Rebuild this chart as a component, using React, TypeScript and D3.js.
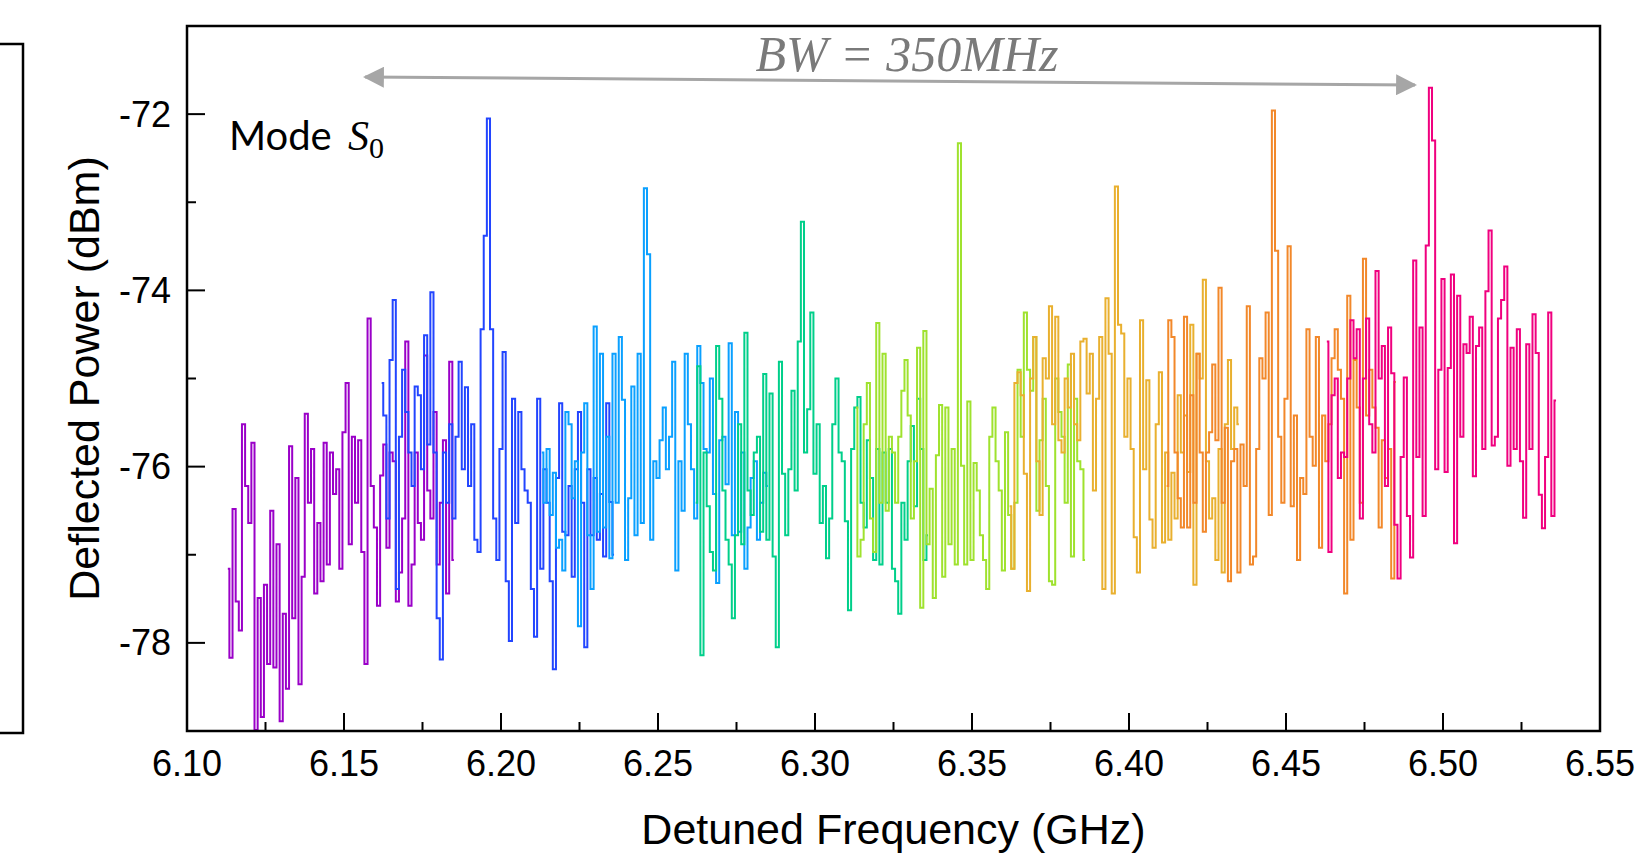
import React, { useEffect, useRef } from 'react';
import * as d3 from 'd3';

// each sweep: first detuned frequency (GHz), sampled every 1 MHz
const sweepStarts = [6.113, 6.162, 6.213, 6.262, 6.313, 6.362, 6.412, 6.463];
const sweepStep = 0.001;
const sweepColors = ['#9a00c8', '#2245ff', '#0aa0ff', '#00cf8a', '#9fe22e', '#e9b02f', '#f2882a', '#f0007f'];

// deflected power (dBm)
const sweepPurple = [
  -77.16, -78.17, -76.48, -77.53, -77.86, -75.52, -76.22, -76.64, -75.73, -78.99,
  -77.49, -78.84, -77.34, -78.24, -76.5, -78.28, -76.88, -78.89, -77.67, -78.52,
  -75.77, -77.72, -76.13, -78.47, -77.25, -75.4, -76.41, -75.8, -77.44, -76.64,
  -77.3, -75.73, -77.11, -75.84, -76.31, -76.03, -77.16, -75.61, -75.05, -76.88,
  -75.66, -76.41, -75.7, -76.97, -78.24, -74.32, -76.22, -76.69, -77.58, -76.1,
  -75.75, -76.92, -75.84, -75.94, -77.53, -77.2, -76.59, -74.58, -77.58, -77.11,
  -75.84, -76.64, -76.83, -74.74, -76.27, -76.59, -75.38, -77.11, -76.41, -75.7,
  -77.44, -74.81, -77.06,
];
const sweepBlue = [
  -75.05, -75.42, -76.59, -74.79, -74.11, -77.39, -75.66, -74.9, -75.38, -75.84,
  -76.22, -75.09, -75.19, -76.03, -74.51, -75.75, -74.02, -75.84, -77.72, -78.19,
  -75.84, -76.41, -75.52, -76.59, -75.66, -74.81, -76.03, -75.1, -76.22, -75.52,
  -76.83, -76.97, -74.44, -73.38, -72.05, -74.44, -76.59, -77.06, -75.8, -74.7,
  -77.3, -77.98, -75.23, -76.64, -75.38, -76.03, -76.27, -76.41, -77.39, -77.93,
  -75.23, -77.16, -76.03, -76.41, -77.3, -78.3, -76.13, -75.28, -76.74, -76.78,
  -76.22, -77.25, -76.03, -75.38, -76.41, -78.05, -76.03, -76.78, -76.13, -76.83,
  -76.31, -77.02, -75.28, -76.4, -77.0,
];
const sweepSky = [
  -75.84, -76.41, -75.8, -76.55, -76.07, -76.92, -76.83, -77.18, -75.38, -75.52,
  -76.36, -75.94, -77.81, -75.84, -75.28, -76.78, -77.39, -74.41, -76.74, -74.72,
  -76.69, -75.66, -77.04, -74.72, -76.41, -74.53, -75.24, -77.06, -76.36, -75.09,
  -76.78, -74.72, -76.64, -72.84, -73.59, -76.83, -75.94, -76.13, -75.7, -75.33,
  -76.03, -75.66, -74.81, -77.18, -75.94, -76.5, -74.72, -75.52, -76.03, -76.59,
  -74.63, -75.05, -75.8, -75.84, -75.0, -76.31, -77.32, -75.7, -75.66, -76.2,
  -74.6, -76.78, -75.38, -76.74, -75.84, -77.16, -76.69, -76.13, -75.94, -76.83,
  -76.41, -76.07, -76.22,
];
const sweepTeal = [
  -76.41, -74.86, -78.14, -75.84, -76.45, -76.97, -77.18, -74.63, -75.23, -76.27,
  -76.83, -77.11, -77.72, -76.78, -75.52, -76.88, -74.48, -76.27, -76.55, -75.84,
  -75.66, -76.74, -74.95, -76.83, -75.17, -77.02, -78.05, -74.81, -76.08, -76.78,
  -76.03, -75.14, -76.27, -74.58, -73.22, -75.84, -75.35, -74.25, -76.08, -75.52,
  -76.64, -76.22, -77.04, -76.59, -75.52, -75.0, -75.84, -75.94, -76.62, -77.63,
  -75.8, -75.33, -75.21, -76.41, -76.69, -75.7, -76.13, -77.06, -75.8, -77.11,
  -75.84, -76.41, -75.8, -77.16, -77.3, -77.67, -76.41, -76.83, -75.94, -75.54,
  -76.45, -75.23, -75.8, -77.06, -76.78,
];
const sweepLime = [
  -75.33, -77.02, -76.83, -75.52, -75.05, -76.59, -76.97, -74.37, -76.41, -74.72,
  -76.5, -75.66, -75.84, -76.41, -75.66, -75.14, -74.79, -75.42, -76.59, -75.94,
  -74.65, -77.6, -74.46, -76.88, -76.25, -77.49, -75.87, -75.3, -77.25, -75.33,
  -76.88, -75.8, -77.11, -72.33, -75.99, -77.11, -75.26, -77.06, -75.96, -76.27,
  -76.78, -77.06, -77.39, -75.66, -75.33, -75.94, -76.27, -77.18, -75.61, -76.55,
  -77.16, -76.41, -74.9, -75.66, -74.25, -74.9, -75.14, -74.53, -76.5, -75.7,
  -75.23, -76.22, -77.3, -77.34, -75.0, -75.38, -75.66, -76.41, -74.84, -77.02,
  -75.23, -75.94, -76.03, -77.06,
];
const sweepGold = [
  -76.45, -77.16, -75.05, -74.93, -75.19, -76.08, -77.41, -75.0, -74.53, -75.94,
  -76.55, -74.77, -75.0, -74.18, -75.52, -74.3, -75.7, -75.84, -75.0, -75.33,
  -74.72, -75.52, -75.7, -74.58, -74.55, -75.17, -74.72, -76.27, -75.23, -74.53,
  -77.39, -74.09, -74.72, -77.44, -72.82, -74.39, -74.49, -75.66, -75.0, -75.8,
  -76.8, -77.2, -74.34, -76.03, -75.02, -76.6, -76.92, -75.52, -74.93, -76.86,
  -75.84, -76.83, -76.07, -76.59, -75.19, -75.84, -75.42, -76.06, -74.39, -77.34,
  -74.72, -75.0, -73.88, -75.94, -76.59, -76.36, -77.06, -75.8, -77.2, -75.52,
  -74.79, -75.8, -75.33, -75.52,
];
const sweepOrange = [
  -76.22, -74.34, -74.53, -75.84, -76.36, -76.69, -74.3, -76.69, -75.19, -76.41,
  -74.72, -75.84, -76.74, -75.84, -75.61, -74.84, -75.7, -73.97, -76.41, -75.56,
  -77.3, -75.94, -75.8, -77.2, -75.75, -76.22, -74.18, -77.11, -77.02, -75.8,
  -74.77, -75.0, -74.25, -76.55, -71.96, -73.55, -75.66, -76.41, -75.23, -73.5,
  -76.45, -75.42, -77.06, -76.13, -76.31, -74.44, -75.66, -75.99, -74.53, -76.92,
  -75.42, -75.94, -75.52, -74.77, -74.44, -74.9, -75.23, -77.44, -74.06, -76.83,
  -74.79, -75.33, -76.41, -73.64, -75.42, -74.9, -75.33, -75.56, -76.69, -75.7,
  -76.13, -75.8, -77.27, -75.04,
];
const sweepPink = [
  -74.58, -76.97, -75.19, -75.0, -76.13, -75.84, -75.89, -75.0, -74.34, -74.77,
  -74.44, -76.59, -75.0, -74.32, -75.52, -75.84, -73.78, -75.0, -74.63, -76.22,
  -74.42, -74.94, -76.66, -77.27, -75.89, -74.99, -76.56, -77.03, -73.66, -75.89,
  -74.42, -76.56, -73.49, -71.7, -72.3, -76.03, -74.9, -73.87, -76.06, -74.88,
  -73.82, -76.87, -74.06, -75.66, -74.61, -74.71, -74.3, -76.11, -74.63, -74.42,
  -75.8, -74.01, -73.32, -75.76, -75.66, -74.32, -74.11, -73.73, -75.99, -74.65,
  -75.8, -74.44, -75.94, -76.58, -74.61, -75.8, -74.27, -74.71, -76.32, -76.7,
  -75.89, -74.25, -76.56, -75.25,
];
const sweeps = [sweepPurple, sweepBlue, sweepSky, sweepTeal, sweepLime, sweepGold, sweepOrange, sweepPink];

const xMajor = [6.10, 6.15, 6.20, 6.25, 6.30, 6.35, 6.40, 6.45, 6.50, 6.55];
const xMinor = [6.125, 6.175, 6.225, 6.275, 6.325, 6.375, 6.425, 6.475, 6.525];
const yMajor = [-72, -74, -76, -78];
const yMinor = [-73, -75, -77];

const App = () => {
  const svgRef = useRef<SVGSVGElement>(null);

  useEffect(() => {
    const width = 1650;
    const height = 856;
    const plot = { left: 187, right: 1600, top: 26, bottom: 731 };

    const svg = d3.select(svgRef.current);
    svg.selectAll('*').remove();

    const x = d3.scaleLinear().domain([6.10, 6.55]).range([plot.left, plot.right]);
    const y = d3.scaleLinear().domain([-79, -71]).range([plot.bottom, plot.top]);

    svg.append('rect').attr('width', width).attr('height', height).attr('fill', '#fff');

    // frame of the neighbouring panel, cut off at the left edge
    svg.append('rect')
      .attr('x', -20).attr('y', 44).attr('width', 43).attr('height', 689)
      .attr('fill', 'none').attr('stroke', '#000').attr('stroke-width', 2.5);

    svg.append('clipPath').attr('id', 'plot-clip')
      .append('rect')
      .attr('x', plot.left).attr('y', plot.top)
      .attr('width', plot.right - plot.left).attr('height', plot.bottom - plot.top);

    const traces = svg.append('g').attr('clip-path', 'url(#plot-clip)');
    sweeps.forEach((vals, k) => {
      const line = d3.line<number>()
        .x((_, i) => x(sweepStarts[k] + i * sweepStep))
        .y(d => y(d))
        .curve(d3.curveStep);
      traces.append('path')
        .datum(vals)
        .attr('d', line)
        .attr('fill', 'none')
        .attr('stroke', sweepColors[k])
        .attr('stroke-width', 2);
    });

    // inward ticks
    const ticks = svg.append('g').attr('stroke', '#000').attr('stroke-width', 2);
    xMajor.forEach(t => ticks.append('line')
      .attr('x1', x(t)).attr('x2', x(t)).attr('y1', plot.bottom).attr('y2', plot.bottom - 18));
    xMinor.forEach(t => ticks.append('line')
      .attr('x1', x(t)).attr('x2', x(t)).attr('y1', plot.bottom).attr('y2', plot.bottom - 9));
    yMajor.forEach(t => ticks.append('line')
      .attr('x1', plot.left).attr('x2', plot.left + 18).attr('y1', y(t)).attr('y2', y(t)));
    yMinor.forEach(t => ticks.append('line')
      .attr('x1', plot.left).attr('x2', plot.left + 9).attr('y1', y(t)).attr('y2', y(t)));

    svg.append('rect')
      .attr('x', plot.left).attr('y', plot.top)
      .attr('width', plot.right - plot.left).attr('height', plot.bottom - plot.top)
      .attr('fill', 'none').attr('stroke', '#000').attr('stroke-width', 2.5);

    const labels = svg.append('g')
      .attr('font-family', '"Liberation Sans", Arial, sans-serif')
      .attr('fill', '#000');

    labels.selectAll('.xlab')
      .data(xMajor)
      .enter()
      .append('text')
      .attr('x', d => x(d))
      .attr('y', 776)
      .attr('text-anchor', 'middle')
      .attr('font-size', 36)
      .text(d => d.toFixed(2));

    labels.selectAll('.ylab')
      .data(yMajor)
      .enter()
      .append('text')
      .attr('x', 171)
      .attr('y', d => y(d) + 12.5)
      .attr('text-anchor', 'end')
      .attr('font-size', 36)
      .text(d => String(d));

    labels.append('text')
      .attr('x', (plot.left + plot.right) / 2)
      .attr('y', 844)
      .attr('text-anchor', 'middle')
      .attr('font-size', 43)
      .text('Detuned Frequency (GHz)');

    labels.append('text')
      .attr('transform', `translate(99, ${(plot.top + plot.bottom) / 2}) rotate(-90)`)
      .attr('text-anchor', 'middle')
      .attr('font-size', 43)
      .text('Deflected Power (dBm)');

    // mode label
    svg.append('text')
      .attr('x', 229).attr('y', 150)
      .attr('font-family', 'Lato, "Open Sans", sans-serif')
      .attr('font-size', 40)
      .text('Mode');
    const s0 = svg.append('text')
      .attr('x', 348).attr('y', 150)
      .attr('font-family', '"Liberation Serif", serif');
    s0.append('tspan').attr('font-style', 'italic').attr('font-size', 42).text('S');
    s0.append('tspan').attr('font-size', 30).attr('dy', 8).text('0');

    // bandwidth arrow
    const defs = svg.append('defs');
    defs.append('marker')
      .attr('id', 'bw-head')
      .attr('viewBox', '0 0 10 10')
      .attr('refX', 9).attr('refY', 5)
      .attr('markerWidth', 7).attr('markerHeight', 7)
      .attr('markerUnits', 'strokeWidth')
      .attr('orient', 'auto-start-reverse')
      .append('path')
      .attr('d', 'M0,0 L10,5 L0,10 z')
      .attr('fill', '#a6a6a6');

    svg.append('line')
      .attr('x1', 365).attr('y1', 77).attr('x2', 1415).attr('y2', 85)
      .attr('stroke', '#a6a6a6').attr('stroke-width', 3)
      .attr('marker-start', 'url(#bw-head)')
      .attr('marker-end', 'url(#bw-head)');

    svg.append('text')
      .attr('x', 907).attr('y', 71)
      .attr('text-anchor', 'middle')
      .attr('font-family', '"Liberation Serif", serif')
      .attr('font-style', 'italic')
      .attr('font-size', 50)
      .attr('fill', '#7a7a7a')
      .text('BW = 350MHz');
  }, []);

  return (
    <svg
      ref={svgRef}
      width={1650}
      height={856}
      style={{ position: 'absolute', left: 0, top: 0 }}
    />
  );
};

export default App;
